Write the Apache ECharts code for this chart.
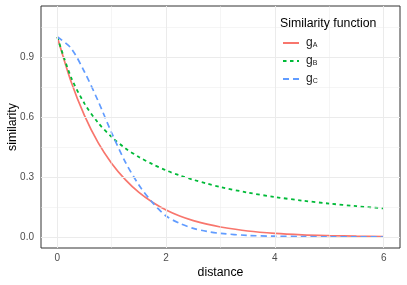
<!DOCTYPE html>
<html>
<head>
<meta charset="utf-8">
<script src="https://cdn.jsdelivr.net/npm/echarts@6/dist/echarts.min.js"></script>
<style>
html,body{margin:0;padding:0;background:#fff;}
#chart{width:407px;height:285px;}
</style>
</head>
<body>
<div id="chart"></div>
<script>
// ---- data ----
const distance = [0, 0.25, 0.5, 0.75, 1, 1.25, 1.5, 1.75, 2, 2.25, 2.5, 2.75, 3, 3.5, 4, 4.5, 5, 5.5, 6];
const gA = [1, 0.779, 0.607, 0.472, 0.368, 0.287, 0.223, 0.174, 0.135, 0.105, 0.082, 0.064, 0.050, 0.030, 0.018, 0.011, 0.007, 0.004, 0.002];
const gB = [1, 0.800, 0.667, 0.571, 0.500, 0.444, 0.400, 0.364, 0.333, 0.308, 0.286, 0.267, 0.250, 0.222, 0.200, 0.182, 0.167, 0.154, 0.143];
const gC = [1, 0.945, 0.825, 0.680, 0.520, 0.375, 0.260, 0.172, 0.105, 0.068, 0.043, 0.028, 0.018, 0.008, 0.004, 0.002, 0.001, 0.001, 0.000];
const seriesNames = ['gA', 'gB', 'gC'];
const seriesSubs = {gA: 'A', gB: 'B', gC: 'C'};
const xTicks = [0, 2, 4, 6];
const xMinor = [1, 3, 5];
const yTicks = [0, 0.3, 0.6, 0.9];
const yMinor = [0.15, 0.45, 0.75, 1.05];
const legendTitle = 'Similarity function';
const xTitle = 'distance';
const yTitle = 'similarity';

const FONT = '"Liberation Sans", Arial, Helvetica, sans-serif';
const pair = (ys) => distance.map((x, i) => [x, ys[i]]);

const gridLines = [].concat(
  xTicks.map(v => ({xAxis: v, lineStyle: {width: 1, color: '#ebebeb', type: 'solid'}})),
  xMinor.map(v => ({xAxis: v, lineStyle: {width: 0.5, color: '#ebebeb', type: 'solid'}})),
  yTicks.map(v => ({yAxis: v, lineStyle: {width: 1, color: '#ebebeb', type: 'solid'}})),
  yMinor.map(v => ({yAxis: v, lineStyle: {width: 0.5, color: '#ebebeb', type: 'solid'}}))
);

const chart = echarts.init(document.getElementById('chart'), null, {renderer: 'canvas'});
chart.setOption({
  animation: false,
  backgroundColor: '#ffffff',
  textStyle: {fontFamily: FONT},
  grid: {left: 41, right: 7, top: 6, bottom: 37, show: true, borderColor: '#333333', borderWidth: 1,
    backgroundColor: 'transparent', containLabel: false, outerBoundsMode: 'none'},
  title: {
    text: legendTitle, left: 280, top: 18, padding: 0, z: 8,
    textStyle: {fontFamily: FONT, fontSize: 12.3, fontWeight: 'normal', color: '#000'}
  },
  graphic: [{
    type: 'rect', left: 273, top: 7, z: 3,
    shape: {width: 111, height: 89},
    style: {fill: '#ffffff'}
  }],
  legend: {
    orient: 'vertical', left: 282, top: 37, padding: 0, z: 8,
    itemWidth: 16, itemHeight: 14, itemGap: 6,
    data: seriesNames,
    itemStyle: {opacity: 0},
    formatter: (n) => '{g|g}{s|' + seriesSubs[n] + '}',
    textStyle: {
      fontFamily: FONT, color: '#000',
      rich: {
        g: {fontSize: 12, fontFamily: FONT, color: '#1a1a1a', padding: [0, 0, 0, 2]},
        s: {fontSize: 7, fontFamily: FONT, color: '#1a1a1a', padding: [5, 0, 0, 0]}
      }
    }
  },
  xAxis: {
    type: 'value', min: -0.3, max: 6.3,
    name: xTitle, nameLocation: 'middle', nameGap: 19, nameMoveOverlap: false,
    nameTextStyle: {fontFamily: FONT, fontSize: 12.3, color: '#000'},
    axisLine: {show: false},
    axisTick: {show: true, length: 3, customValues: xTicks, lineStyle: {color: '#333333', width: 1}},
    axisLabel: {customValues: xTicks, margin: 5, fontFamily: FONT, fontSize: 10, color: '#4d4d4d', formatter: v => String(v)},
    splitLine: {show: false}
  },
  yAxis: {
    type: 'value', min: -0.055, max: 1.155,
    name: yTitle, nameLocation: 'middle', nameGap: 22, nameMoveOverlap: false,
    nameTextStyle: {fontFamily: FONT, fontSize: 12.3, color: '#000'},
    axisLine: {show: false},
    axisTick: {show: true, length: 3, customValues: yTicks, lineStyle: {color: '#333333', width: 1}},
    axisLabel: {customValues: yTicks, margin: 7, fontFamily: FONT, fontSize: 10, color: '#4d4d4d', formatter: v => v.toFixed(1)},
    splitLine: {show: false}
  },
  series: [
    {
      name: '__grid', type: 'line', data: [], z: 1, silent: true, legendHoverLink: false,
      markLine: {silent: true, symbol: ['none', 'none'], label: {show: false}, animation: false, data: gridLines}
    },
    {name: 'gA', type: 'line', data: pair(gA), symbol: 'none', smooth: 0.3, z: 4,
      lineStyle: {color: '#F8766D', width: 1.7, type: 'solid'}, itemStyle: {color: '#F8766D'}},
    {name: 'gB', type: 'line', data: pair(gB), symbol: 'none', smooth: 0.3, z: 4,
      lineStyle: {color: '#00BA38', width: 1.8, type: [3.5, 3.5]}, itemStyle: {color: '#00BA38'}},
    {name: 'gC', type: 'line', data: pair(gC), symbol: 'none', smooth: 0.3, z: 4,
      lineStyle: {color: '#619CFF', width: 1.7, type: [6, 4]}, itemStyle: {color: '#619CFF'}}
  ]
});
</script>
</body>
</html>
